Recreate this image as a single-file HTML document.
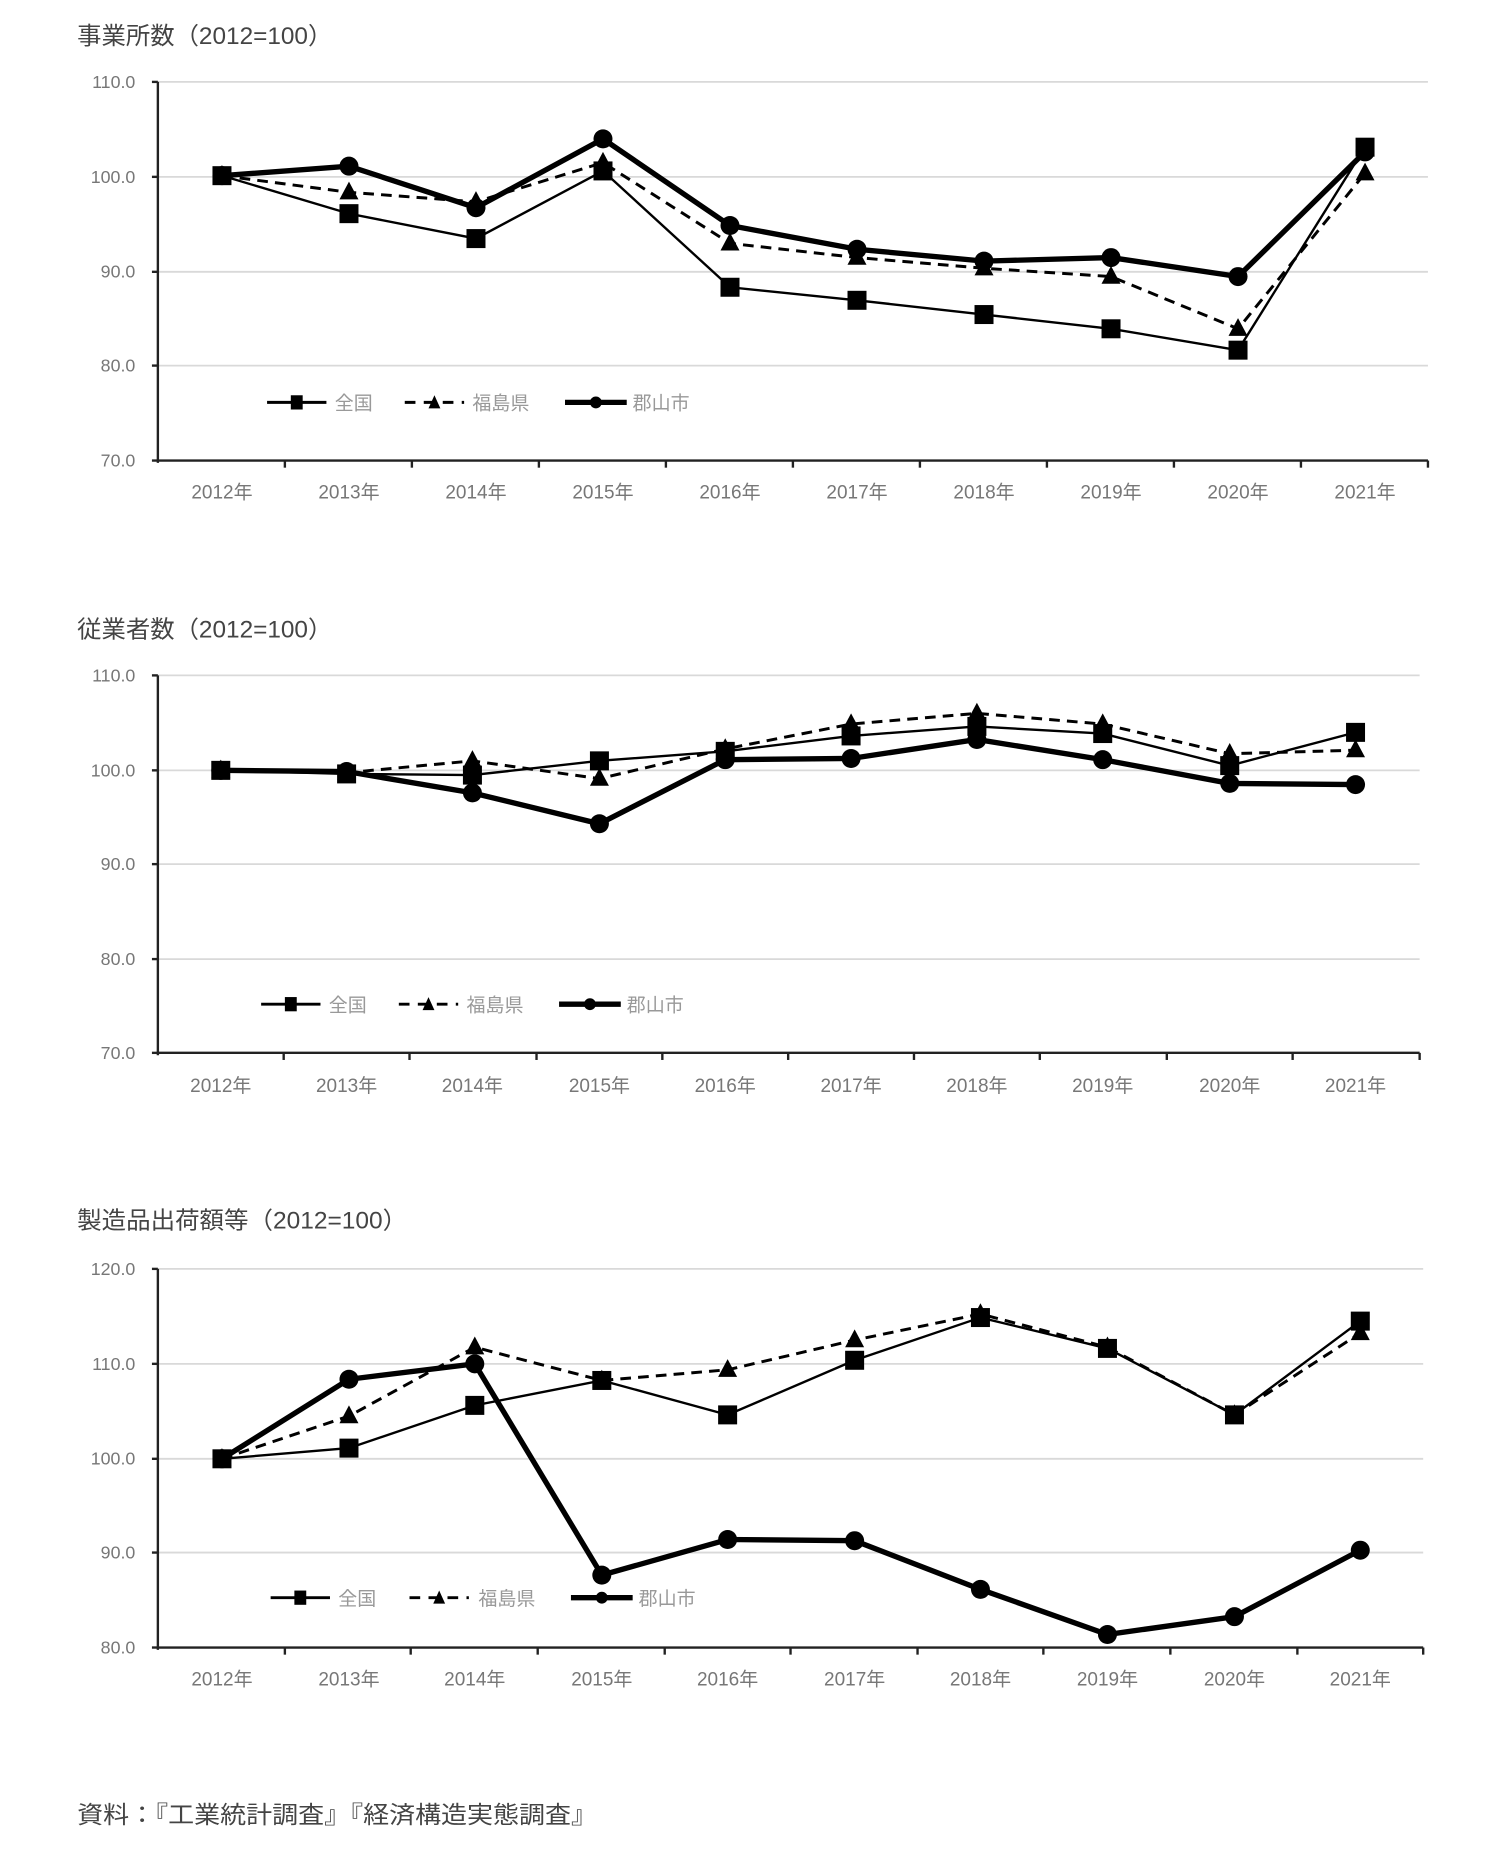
<!DOCTYPE html>
<html><head><meta charset="utf-8"><style>
html,body{margin:0;padding:0;background:#fff;}
svg{display:block;}
text{font-family:"Liberation Sans","Noto Sans CJK JP",sans-serif;}
</style></head><body>
<svg width="1507" height="1860" viewBox="0 0 1269.6 1567" preserveAspectRatio="none" xmlns="http://www.w3.org/2000/svg">
<defs>
<rect id="sq" x="-8" y="-8" width="16" height="16" fill="#000"/>
<polygon id="tr" points="0,-9 8,6 -8,6" fill="#000"/>
<circle id="ci" r="8" fill="#000"/>
<rect id="lsq" x="-5" y="-6" width="10" height="12" fill="#000"/>
<polygon id="ltr" points="0,-6 5,5 -5,5" fill="#000"/>
<circle id="lci" r="5" fill="#000"/>
</defs>

<!-- ===== Chart 1 ===== -->
<text x="65" y="37" font-size="20" fill="#444" textLength="215" lengthAdjust="spacingAndGlyphs">事業所数（2012=100）</text>
<g stroke="#d9d9d9" stroke-width="1.5">
<line x1="133" y1="69" x2="1203" y2="69"/><line x1="133" y1="149" x2="1203" y2="149"/><line x1="133" y1="229" x2="1203" y2="229"/><line x1="133" y1="308" x2="1203" y2="308"/>
</g>
<g stroke="#222" stroke-width="2">
<line x1="133" y1="69" x2="133" y2="390"/><line x1="132" y1="388" x2="1203" y2="388"/>
<line x1="128" y1="69" x2="133" y2="69"/><line x1="128" y1="149" x2="133" y2="149"/><line x1="128" y1="229" x2="133" y2="229"/><line x1="128" y1="308" x2="133" y2="308"/><line x1="128" y1="388" x2="133" y2="388"/>
<line x1="240" y1="388" x2="240" y2="394"/><line x1="347" y1="388" x2="347" y2="394"/><line x1="454" y1="388" x2="454" y2="394"/><line x1="561" y1="388" x2="561" y2="394"/><line x1="668" y1="388" x2="668" y2="394"/><line x1="775" y1="388" x2="775" y2="394"/><line x1="882" y1="388" x2="882" y2="394"/><line x1="989" y1="388" x2="989" y2="394"/><line x1="1096" y1="388" x2="1096" y2="394"/><line x1="1203" y1="388" x2="1203" y2="394"/>
</g>
<g font-size="15" fill="#777" text-anchor="end">
<text x="114" y="74">110.0</text><text x="114" y="154">100.0</text><text x="114" y="234">90.0</text><text x="114" y="313">80.0</text><text x="114" y="393">70.0</text>
</g>
<g font-size="16" fill="#777" text-anchor="middle">
<text x="187" y="420">2012年</text><text x="294" y="420">2013年</text><text x="401" y="420">2014年</text><text x="508" y="420">2015年</text><text x="615" y="420">2016年</text><text x="722" y="420">2017年</text><text x="829" y="420">2018年</text><text x="936" y="420">2019年</text><text x="1043" y="420">2020年</text><text x="1150" y="420">2021年</text>
</g>
<polyline fill="none" stroke="#000" stroke-width="2" points="187,148 294,180 401,201 508,144 615,242 722,253 829,265 936,277 1043,295 1150,124"/>
<polyline fill="none" stroke="#000" stroke-width="2.5" stroke-dasharray="9,6" points="187,148 294,162 401,170 508,137 615,205 722,217 829,226 936,233 1043,277 1150,146"/>
<polyline fill="none" stroke="#000" stroke-width="4.5" points="187,148 294,140 401,175 508,117 615,190 722,210 829,220 936,217 1043,233 1150,128"/>
<g><use href="#sq" x="187" y="148"/><use href="#sq" x="294" y="180"/><use href="#sq" x="401" y="201"/><use href="#sq" x="508" y="144"/><use href="#sq" x="615" y="242"/><use href="#sq" x="722" y="253"/><use href="#sq" x="829" y="265"/><use href="#sq" x="936" y="277"/><use href="#sq" x="1043" y="295"/><use href="#sq" x="1150" y="124"/></g>
<g><use href="#tr" x="187" y="148"/><use href="#tr" x="294" y="162"/><use href="#tr" x="401" y="170"/><use href="#tr" x="508" y="137"/><use href="#tr" x="615" y="205"/><use href="#tr" x="722" y="217"/><use href="#tr" x="829" y="226"/><use href="#tr" x="936" y="233"/><use href="#tr" x="1043" y="277"/><use href="#tr" x="1150" y="146"/></g>
<g><use href="#ci" x="187" y="148"/><use href="#ci" x="294" y="140"/><use href="#ci" x="401" y="175"/><use href="#ci" x="508" y="117"/><use href="#ci" x="615" y="190"/><use href="#ci" x="722" y="210"/><use href="#ci" x="829" y="220"/><use href="#ci" x="936" y="217"/><use href="#ci" x="1043" y="233"/><use href="#ci" x="1150" y="128"/></g>
<line x1="225" y1="339" x2="275" y2="339" stroke="#000" stroke-width="2.5"/><use href="#lsq" x="250" y="339"/>
<text x="282" y="345" font-size="16" fill="#999">全国</text>
<line x1="341" y1="339" x2="391" y2="339" stroke="#000" stroke-width="2.5" stroke-dasharray="9,7"/><use href="#ltr" x="366" y="339"/>
<text x="398" y="345" font-size="16" fill="#999">福島県</text>
<line x1="476" y1="339" x2="528" y2="339" stroke="#000" stroke-width="4.5"/><use href="#lci" x="502" y="339"/>
<text x="533" y="345" font-size="16" fill="#999">郡山市</text>

<!-- ===== Chart 2 ===== -->
<text x="65" y="537" font-size="20" fill="#444" textLength="215" lengthAdjust="spacingAndGlyphs">従業者数（2012=100）</text>
<g stroke="#d9d9d9" stroke-width="1.5">
<line x1="133" y1="569" x2="1196" y2="569"/><line x1="133" y1="649" x2="1196" y2="649"/><line x1="133" y1="728" x2="1196" y2="728"/><line x1="133" y1="808" x2="1196" y2="808"/>
</g>
<g stroke="#222" stroke-width="2">
<line x1="133" y1="569" x2="133" y2="889"/><line x1="132" y1="887" x2="1196" y2="887"/>
<line x1="128" y1="569" x2="133" y2="569"/><line x1="128" y1="649" x2="133" y2="649"/><line x1="128" y1="728" x2="133" y2="728"/><line x1="128" y1="808" x2="133" y2="808"/><line x1="128" y1="887" x2="133" y2="887"/>
<line x1="239" y1="887" x2="239" y2="893"/><line x1="345" y1="887" x2="345" y2="893"/><line x1="452" y1="887" x2="452" y2="893"/><line x1="558" y1="887" x2="558" y2="893"/><line x1="664" y1="887" x2="664" y2="893"/><line x1="770" y1="887" x2="770" y2="893"/><line x1="876" y1="887" x2="876" y2="893"/><line x1="983" y1="887" x2="983" y2="893"/><line x1="1089" y1="887" x2="1089" y2="893"/><line x1="1196" y1="887" x2="1196" y2="893"/>
</g>
<g font-size="15" fill="#777" text-anchor="end">
<text x="114" y="574">110.0</text><text x="114" y="654">100.0</text><text x="114" y="733">90.0</text><text x="114" y="813">80.0</text><text x="114" y="892">70.0</text>
</g>
<g font-size="16" fill="#777" text-anchor="middle">
<text x="186" y="920">2012年</text><text x="292" y="920">2013年</text><text x="398" y="920">2014年</text><text x="505" y="920">2015年</text><text x="611" y="920">2016年</text><text x="717" y="920">2017年</text><text x="823" y="920">2018年</text><text x="929" y="920">2019年</text><text x="1036" y="920">2020年</text><text x="1142" y="920">2021年</text>
</g>
<polyline fill="none" stroke="#000" stroke-width="2" points="186,649 292,652 398,653 505,641 611,633 717,620 823,612 929,618 1036,645 1142,617"/>
<polyline fill="none" stroke="#000" stroke-width="2.5" stroke-dasharray="9,6" points="186,649 292,651 398,641 505,656 611,631 717,610 823,601 929,610 1036,635 1142,632"/>
<polyline fill="none" stroke="#000" stroke-width="4.5" points="186,649 292,650 398,668 505,694 611,640 717,639 823,623 929,640 1036,660 1142,661"/>
<g><use href="#sq" x="186" y="649"/><use href="#sq" x="292" y="652"/><use href="#sq" x="398" y="653"/><use href="#sq" x="505" y="641"/><use href="#sq" x="611" y="633"/><use href="#sq" x="717" y="620"/><use href="#sq" x="823" y="612"/><use href="#sq" x="929" y="618"/><use href="#sq" x="1036" y="645"/><use href="#sq" x="1142" y="617"/></g>
<g><use href="#tr" x="186" y="649"/><use href="#tr" x="292" y="651"/><use href="#tr" x="398" y="641"/><use href="#tr" x="505" y="656"/><use href="#tr" x="611" y="631"/><use href="#tr" x="717" y="610"/><use href="#tr" x="823" y="601"/><use href="#tr" x="929" y="610"/><use href="#tr" x="1036" y="635"/><use href="#tr" x="1142" y="632"/></g>
<g><use href="#ci" x="186" y="649"/><use href="#ci" x="292" y="650"/><use href="#ci" x="398" y="668"/><use href="#ci" x="505" y="694"/><use href="#ci" x="611" y="640"/><use href="#ci" x="717" y="639"/><use href="#ci" x="823" y="623"/><use href="#ci" x="929" y="640"/><use href="#ci" x="1036" y="660"/><use href="#ci" x="1142" y="661"/></g>
<line x1="220" y1="846" x2="270" y2="846" stroke="#000" stroke-width="2.5"/><use href="#lsq" x="245" y="846"/>
<text x="277" y="852" font-size="16" fill="#999">全国</text>
<line x1="336" y1="846" x2="386" y2="846" stroke="#000" stroke-width="2.5" stroke-dasharray="9,7"/><use href="#ltr" x="361" y="846"/>
<text x="393" y="852" font-size="16" fill="#999">福島県</text>
<line x1="471" y1="846" x2="523" y2="846" stroke="#000" stroke-width="4.5"/><use href="#lci" x="497" y="846"/>
<text x="528" y="852" font-size="16" fill="#999">郡山市</text>

<!-- ===== Chart 3 ===== -->
<text x="65" y="1035" font-size="20" fill="#444" textLength="278" lengthAdjust="spacingAndGlyphs">製造品出荷額等（2012=100）</text>
<g stroke="#d9d9d9" stroke-width="1.5">
<line x1="133" y1="1069" x2="1199" y2="1069"/><line x1="133" y1="1149" x2="1199" y2="1149"/><line x1="133" y1="1229" x2="1199" y2="1229"/><line x1="133" y1="1308" x2="1199" y2="1308"/>
</g>
<g stroke="#222" stroke-width="2">
<line x1="133" y1="1069" x2="133" y2="1390"/><line x1="132" y1="1388" x2="1199" y2="1388"/>
<line x1="128" y1="1069" x2="133" y2="1069"/><line x1="128" y1="1149" x2="133" y2="1149"/><line x1="128" y1="1229" x2="133" y2="1229"/><line x1="128" y1="1308" x2="133" y2="1308"/><line x1="128" y1="1388" x2="133" y2="1388"/>
<line x1="240" y1="1388" x2="240" y2="1394"/><line x1="346" y1="1388" x2="346" y2="1394"/><line x1="453" y1="1388" x2="453" y2="1394"/><line x1="560" y1="1388" x2="560" y2="1394"/><line x1="666" y1="1388" x2="666" y2="1394"/><line x1="773" y1="1388" x2="773" y2="1394"/><line x1="879" y1="1388" x2="879" y2="1394"/><line x1="986" y1="1388" x2="986" y2="1394"/><line x1="1093" y1="1388" x2="1093" y2="1394"/><line x1="1199" y1="1388" x2="1199" y2="1394"/>
</g>
<g font-size="15" fill="#777" text-anchor="end">
<text x="114" y="1074">120.0</text><text x="114" y="1154">110.0</text><text x="114" y="1234">100.0</text><text x="114" y="1313">90.0</text><text x="114" y="1393">80.0</text>
</g>
<g font-size="16" fill="#777" text-anchor="middle">
<text x="187" y="1420">2012年</text><text x="294" y="1420">2013年</text><text x="400" y="1420">2014年</text><text x="507" y="1420">2015年</text><text x="613" y="1420">2016年</text><text x="720" y="1420">2017年</text><text x="826" y="1420">2018年</text><text x="933" y="1420">2019年</text><text x="1040" y="1420">2020年</text><text x="1146" y="1420">2021年</text>
</g>
<polyline fill="none" stroke="#000" stroke-width="2" points="187,1229 294,1220 400,1184 507,1163 613,1192 720,1146 826,1110 933,1136 1040,1192 1146,1113"/>
<polyline fill="none" stroke="#000" stroke-width="2.5" stroke-dasharray="9,6" points="187,1229 294,1193 400,1135 507,1163 613,1154 720,1129 826,1107 933,1135 1040,1192 1146,1123"/>
<polyline fill="none" stroke="#000" stroke-width="4.5" points="187,1229 294,1162 400,1149 507,1327 613,1297 720,1298 826,1339 933,1377 1040,1362 1146,1306"/>
<g><use href="#sq" x="187" y="1229"/><use href="#sq" x="294" y="1220"/><use href="#sq" x="400" y="1184"/><use href="#sq" x="507" y="1163"/><use href="#sq" x="613" y="1192"/><use href="#sq" x="720" y="1146"/><use href="#sq" x="826" y="1110"/><use href="#sq" x="933" y="1136"/><use href="#sq" x="1040" y="1192"/><use href="#sq" x="1146" y="1113"/></g>
<g><use href="#tr" x="187" y="1229"/><use href="#tr" x="294" y="1193"/><use href="#tr" x="400" y="1135"/><use href="#tr" x="507" y="1163"/><use href="#tr" x="613" y="1154"/><use href="#tr" x="720" y="1129"/><use href="#tr" x="826" y="1107"/><use href="#tr" x="933" y="1135"/><use href="#tr" x="1040" y="1192"/><use href="#tr" x="1146" y="1123"/></g>
<g><use href="#ci" x="187" y="1229"/><use href="#ci" x="294" y="1162"/><use href="#ci" x="400" y="1149"/><use href="#ci" x="507" y="1327"/><use href="#ci" x="613" y="1297"/><use href="#ci" x="720" y="1298"/><use href="#ci" x="826" y="1339"/><use href="#ci" x="933" y="1377"/><use href="#ci" x="1040" y="1362"/><use href="#ci" x="1146" y="1306"/></g>
<line x1="228" y1="1346" x2="278" y2="1346" stroke="#000" stroke-width="2.5"/><use href="#lsq" x="253" y="1346"/>
<text x="285" y="1352" font-size="16" fill="#999">全国</text>
<line x1="345" y1="1346" x2="395" y2="1346" stroke="#000" stroke-width="2.5" stroke-dasharray="9,7"/><use href="#ltr" x="370" y="1346"/>
<text x="403" y="1352" font-size="16" fill="#999">福島県</text>
<line x1="481" y1="1346" x2="533" y2="1346" stroke="#000" stroke-width="4.5"/><use href="#lci" x="507" y="1346"/>
<text x="538" y="1352" font-size="16" fill="#999">郡山市</text>

<text x="65" y="1536" font-size="20" fill="#444" textLength="438" lengthAdjust="spacingAndGlyphs">資料：『工業統計調査』『経済構造実態調査』</text>
</svg>
</body></html>
